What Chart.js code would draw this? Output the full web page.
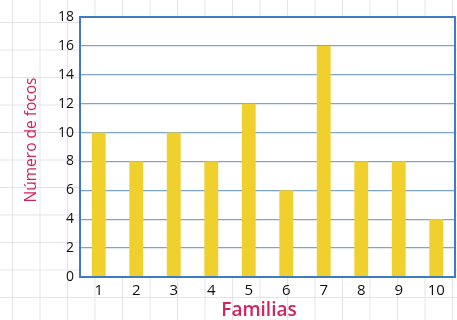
<!DOCTYPE html>
<html>
<head>
<meta charset="utf-8">
<script src="https://cdn.jsdelivr.net/npm/chart.js@4"></script>
<style>
  html, body { margin: 0; padding: 0; }
  body {
    width: 457px; height: 320px; overflow: hidden;
    background-color: #fff;
    background-image:
      linear-gradient(to right, #e4e4e4 1px, transparent 1px),
      linear-gradient(to bottom, #e4e4e4 1px, transparent 1px);
    background-size: 27.5px 27.5px;
    background-position: 12px 22px;
  }
  #wrap { position: relative; width: 457px; height: 320px; }
</style>
</head>
<body>
<div id="wrap"><canvas id="chart"></canvas></div>
<script>
// ── Data ─────────────────────────────────────────────
const familias = ['1', '2', '3', '4', '5', '6', '7', '8', '9', '10'];
const focos    = [10, 8, 10, 8, 12, 6, 16, 8, 8, 4];
const yTicks   = [0, 2, 4, 6, 8, 10, 12, 14, 16, 18];
const xTitle   = 'Familias';
const yTitle   = 'Número de focos';

// ── White plot area, blue frame, axis titles ─────────
const framePlugin = {
    id: 'frame',
    beforeDraw(chart) {
        const a = chart.chartArea, ctx = chart.ctx;
        ctx.save();
        ctx.fillStyle = '#fff';
        ctx.fillRect(a.left, a.top, a.right - a.left, a.bottom - a.top);
        ctx.restore();
    },
    afterDraw(chart) {
        const a = chart.chartArea, ctx = chart.ctx;
        ctx.save();
        ctx.strokeStyle = '#3d7bc4';
        ctx.lineWidth = 2;
        ctx.strokeRect(a.left, a.top, a.right - a.left, a.bottom - a.top);

        ctx.fillStyle = '#d3225f';
        ctx.textAlign = 'center';
        ctx.textBaseline = 'middle';
        ctx.font = '600 19px "Open Sans"';
        ctx.fillText(xTitle, 259, 311);

        ctx.translate(32, 140);
        ctx.rotate(-Math.PI / 2);
        ctx.font = '500 15.5px "Open Sans"';
        ctx.fillText(yTitle, 0, 0);
        ctx.restore();
    }
};

new Chart(document.getElementById('chart'), {
    type: 'bar',
    data: {
        labels: familias,
        datasets: [{
            data: focos,
            backgroundColor: '#f0d02c',
            borderWidth: 0,
            barPercentage: 0.74,
            categoryPercentage: 0.5
        }]
    },
    options: {
        responsive: true,
        maintainAspectRatio: false,
        animation: false,
        layout: { padding: { top: 17, right: 2, left: 0, bottom: 0 } },
        plugins: { legend: { display: false }, tooltip: { enabled: false } },
        scales: {
            x: {
                grid: { display: false, drawTicks: false },
                border: { display: false },
                ticks: {
                    color: '#111',
                    padding: 5,
                    font: { family: 'Open Sans', size: 15 }
                },
                afterFit(scale) { scale.height = 43; }
            },
            y: {
                min: 0,
                max: 18,
                afterBuildTicks(scale) { scale.ticks = yTicks.map(v => ({ value: v })); },
                grid: { color: '#7ea4d6', lineWidth: 1.3, drawTicks: false },
                border: { display: false },
                ticks: {
                    color: '#111',
                    padding: 6,
                    font: { family: 'Open Sans', size: 14 }
                },
                afterFit(scale) { scale.width = 80; }
            }
        }
    },
    plugins: [framePlugin]
});
</script>
</body>
</html>
